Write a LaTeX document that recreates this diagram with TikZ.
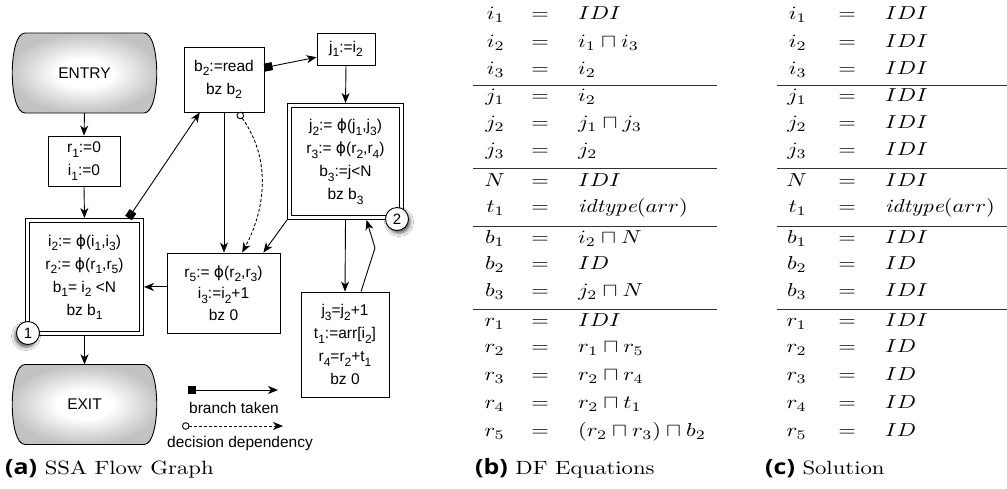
\documentclass[tikz,border=0pt]{standalone}
\usepackage{fontspec}
\usepackage{graphicx}
\newfontfamily\helv{Liberation Sans}
\newfontfamily\dvs{DejaVu Sans}
\newfontfamily\capsf{Open Sans}
\usetikzlibrary{arrows.meta,calc,shadows.blur}
\pgfdeclareradialshading{termshade}{\pgfpoint{0bp}{0bp}}{color(0bp)=(white); color(9bp)=(white); color(25bp)=(black!24); color(50bp)=(black!24)}
\newcommand\lowsub[1]{\raisebox{-0.3em}{\fontsize{12}{12}\selectfont #1}}
\newcommand\phis{{\dvs ϕ}}
\newcommand\tb[1]{\scalebox{2.25}[1.88]{$#1$}}
\newcommand\capt[2]{\scalebox{2.27}[1.92]{{\capsf\bfseries\fontsize{11}{11}\selectfont #1} #2}}
\newcommand\termshape[1]{%
  \shade[draw, line width=0.9pt, shading=termshade]
    ($(#1)+(-59.5,-40)$) -- ($(#1)+(59.5,-40)$)
    .. controls ($(#1)+(76.5,-40)$) and ($(#1)+(76.5,40)$) .. ($(#1)+(59.5,40)$)
    -- ($(#1)+(-59.5,40)$)
    .. controls ($(#1)+(-76.5,40)$) and ($(#1)+(-76.5,-40)$) .. cycle;}
\begin{document}
\begin{tikzpicture}[x=1pt,y=-1pt,
  fc/.style={font=\helv\fontsize{15.5}{23}\selectfont},
  box/.style={fc, draw, line width=0.9pt, inner sep=0pt, align=center},
  dbox/.style={box, double, double distance=2.8pt, outer sep=2.3pt},
  term/.style={fc, inner sep=0pt, minimum width=145pt, minimum height=80pt},
  cnum/.style={circle, draw, fill=white, line width=0.9pt, inner sep=0pt, minimum size=23pt, font=\helv\fontsize{15}{15}\selectfont},
  arr/.style={line width=0.9pt, -{Stealth[length=10pt,width=8pt,inset=3pt]}},
  brarr/.style={line width=0.9pt, {Square[length=8pt,width=8pt]}-{Stealth[length=10pt,width=8pt,inset=3pt]}},
  dcarr/.style={line width=0.9pt, dash pattern=on 3pt off 2pt, {Circle[open,length=7.5pt,width=7.5pt]}-{Stealth[length=10pt,width=8pt,inset=3pt]}},
  lbl/.style={fc, inner sep=0pt},
  lhs/.style={anchor=base east, inner sep=0pt},
  eqs/.style={anchor=base, inner sep=0pt},
  rhs/.style={anchor=base west, inner sep=0pt},
  hrule/.style={line width=1pt, black!80},
  capn/.style={anchor=base west, inner sep=0pt}
]
\useasboundingbox (0,0) rectangle (1007,488);
\fill[white] (0,0) rectangle (1007,488);

% ---------- (a) flow graph ----------
\coordinate (entryc) at (84.5,73);
\coordinate (exitc) at (84.5,404.5);
\termshape{entryc}
\termshape{exitc}
\node[term] (entry) at (entryc) {ENTRY};
\node[term] (exit) at (exitc) {EXIT};
\node[box, minimum width=72pt, minimum height=50pt] (r1box) at (84,161) {r\lowsub{1}:=0\\i\lowsub{1}:=0};
\node[dbox, minimum width=114.4pt, minimum height=113.4pt] (blk1) at (84.5,277)
  {i\lowsub{2}:= \phis(i\lowsub{1},i\lowsub{3})\\r\lowsub{2}:= \phis(r\lowsub{1},r\lowsub{5})\\b\lowsub{1}= i\lowsub{2} <N\\bz b\lowsub{1}};
\node[box, minimum width=80pt, minimum height=65pt] (b2box) at (224,79.5) {b\lowsub{2}:=read\\bz b\lowsub{2}};
\node[box, minimum width=58pt, minimum height=32pt] (j1box) at (346,49) {j\lowsub{1}:=i\lowsub{2}};
\node[dbox, minimum width=112.4pt, minimum height=112.4pt] (blk2) at (345.5,161.5)
  {j\lowsub{2}:= \phis(j\lowsub{1},j\lowsub{3})\\r\lowsub{3}:= \phis(r\lowsub{2},r\lowsub{4})\\b\lowsub{3}:=j<N\\bz b\lowsub{3}};
\node[box, minimum width=113pt, minimum height=80pt, font=\helv\fontsize{15.5}{21.5}\selectfont] (r5box) at (223.5,293)
  {r\lowsub{5}:= \phis(r\lowsub{2},r\lowsub{3})\\i\lowsub{3}:=i\lowsub{2}+1\\bz 0};
\node[box, minimum width=88pt, minimum height=105pt] (j3box) at (345,344.5)
  {j\lowsub{3}=j\lowsub{2}+1\\t\lowsub{1}:=arr[i\lowsub{2}]\\r\lowsub{4}=r\lowsub{2}+t\lowsub{1}\\bz 0};

\node[cnum, blur shadow={shadow xshift=-2pt, shadow yshift=-3pt, shadow blur radius=3pt, shadow opacity=60}] (c1) at (28,333) {1};
\node[cnum, blur shadow={shadow xshift=2pt, shadow yshift=-3pt, shadow blur radius=3pt, shadow opacity=60}] (c2) at (397,219) {2};

\draw[arr] (entry.south) -- (r1box.north);
\draw[arr] (r1box.south) -- (blk1.north);
\draw[arr] (blk1.south) -- (exit.north);
\draw[brarr] ($(blk1.north west)!0.87!(blk1.north east)$) -- ($(b2box.south west)!0.2!(b2box.south east)$);
\draw[brarr] ($(b2box.north east)!0.32!(b2box.south east)$) -- ($(j1box.north west)!0.75!(j1box.south west)$);
\draw[arr] (j1box.south) -- (blk2.north);
\draw[arr] (b2box.south) -- (b2box.south |- r5box.north);
\draw[dcarr] ($(b2box.south west)!0.675!(b2box.south east)$) .. controls (272,160) and (265,210) .. ($(r5box.north west)!0.664!(r5box.north east)$);
\draw[arr] (blk2.south west) -- ($(r5box.north west)!0.85!(r5box.north east)$);
\coordinate (r5l) at ($(r5box.north west)!0.425!(r5box.south west)$);
\draw[arr] (r5l) -- (r5l -| blk1.east);
\draw[arr] (blk2.south) -- (j3box.north);
\coordinate (bend) at (375,248);
\draw[arr] ($(j3box.north west)!0.68!(j3box.north east)$) -- (bend) -- ($(blk2.south west)!0.68!(blk2.south east)$);

% legend
\coordinate (lg1s) at (188,390);
\coordinate (lg1e) at (278,390);
\draw[brarr] (lg1s) -- (lg1e);
\node[lbl] (lg1t) at (234,408) {branch taken};
\coordinate (lg2s) at (182,426);
\coordinate (lg2e) at (283,426);
\draw[dcarr] (lg2s) -- (lg2e);
\node[lbl] (lg2t) at (240,443) {decision dependency};

% ---------- (b) equations ----------
\foreach \y/\l/\r [count=\k] in {
  15/i_1/IDI, 43/i_2/i_1\sqcap i_3, 70/i_3/i_2,
  97/j_1/i_2, 124/j_2/j_1\sqcap j_3, 151/j_3/j_2,
  182/N/IDI, 208/t_1/\mathit{idtype}(arr),
  239/b_1/i_2\sqcap N, 265/b_2/ID, 292/b_3/j_2\sqcap N,
  322/r_1/IDI, 348/r_2/r_1\sqcap r_5, 376/r_3/r_2\sqcap r_4,
  404/r_4/r_2\sqcap t_1, 432/r_5/(r_2\sqcap r_3)\sqcap b_2}{
  \node[lhs] (bl\k) at (505,\y+4.7) {\tb{\l}};
  \node[eqs] (be\k) at (540,\y+4.7) {\tb{=}};
  \node[rhs] (br\k) at (578,\y+4.7) {\tb{\r}};
}
\foreach \y in {85,168,226,309}{
  \draw[hrule] (473,\y) -- (717,\y);
}

% ---------- (c) solution ----------
\foreach \y/\l/\r [count=\k] in {
  15/i_1/IDI, 43/i_2/IDI, 70/i_3/IDI,
  97/j_1/IDI, 124/j_2/IDI, 151/j_3/IDI,
  182/N/IDI, 208/t_1/\mathit{idtype}(arr),
  239/b_1/IDI, 265/b_2/ID, 292/b_3/IDI,
  322/r_1/IDI, 348/r_2/ID, 376/r_3/ID,
  404/r_4/ID, 432/r_5/ID}{
  \node[lhs] (cl\k) at (807,\y+4.7) {\tb{\l}};
  \node[eqs] (ce\k) at (847,\y+4.7) {\tb{=}};
  \node[rhs] (cr\k) at (885,\y+4.7) {\tb{\r}};
}
\foreach \y in {85,168,226,309}{
  \draw[hrule] (777,\y) -- (1007,\y);
}

% captions
\node[capn] (capa) at (5,474) {\capt{(a)}{SSA Flow Graph}};
\node[capn] (capb) at (475,474) {\capt{(b)}{DF Equations}};
\node[capn] (capc) at (765,474) {\capt{(c)}{Solution}};
\end{tikzpicture}
\end{document}
